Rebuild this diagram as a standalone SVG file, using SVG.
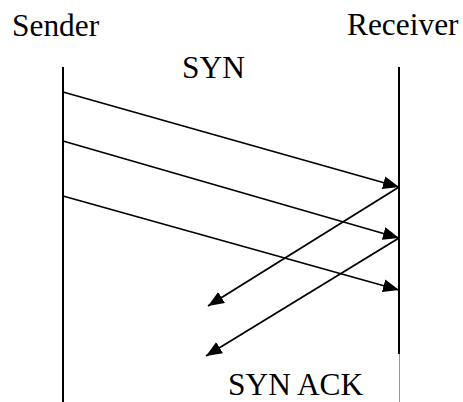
<svg xmlns="http://www.w3.org/2000/svg" width="463" height="402" viewBox="0 0 463 402">
  <style>
    .label { font-family: "Liberation Serif", "Times New Roman", serif; font-size: 31.4px; fill: #000; }
    .life { stroke: #000; stroke-width: 2; fill: none; }
    .msg { stroke: #000; stroke-width: 1.8; fill: none; marker-end: url(#head); }
  </style>
  <defs>
    <marker id="head" markerUnits="userSpaceOnUse" markerWidth="18" markerHeight="14" refX="16" refY="6.5" orient="auto">
      <path d="M0,0 L16,6.5 L0,13 Z" fill="#000"/>
    </marker>
  </defs>
  <rect width="463" height="402" fill="#fff"/>

  <g id="sender">
    <text class="label" x="12" y="36">Sender</text>
    <line class="life" x1="63" y1="67" x2="63" y2="402"/>
  </g>

  <g id="receiver">
    <text class="label" x="347" y="35">Receiver</text>
    <line class="life" x1="399" y1="67" x2="399" y2="354"/>
    <line x1="399.5" y1="354" x2="399.5" y2="402" stroke="#999" stroke-width="1"/>
  </g>

  <g id="syn-label">
    <text class="label" x="182" y="78">SYN</text>
  </g>

  <g id="synack-label">
    <text class="label" x="228" y="395">SYN ACK</text>
  </g>

  <g id="connectors">
    <line class="msg" x1="63" y1="92" x2="399" y2="187"/>
    <line class="msg" x1="63" y1="141" x2="399" y2="238"/>
    <line class="msg" x1="63" y1="196" x2="399" y2="290"/>
    <line class="msg" x1="399" y1="187" x2="208" y2="306"/>
    <line class="msg" x1="399" y1="238" x2="206" y2="356"/>
  </g>
</svg>
